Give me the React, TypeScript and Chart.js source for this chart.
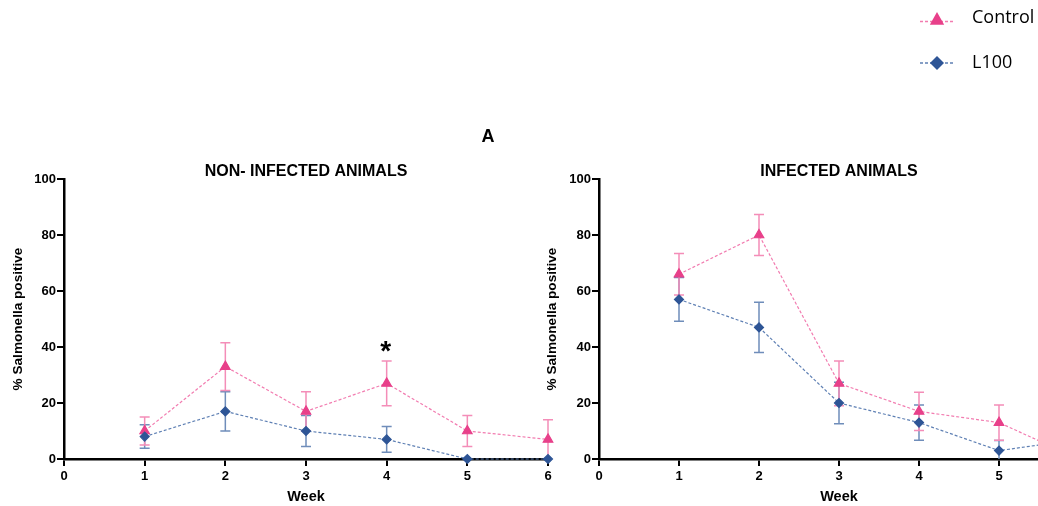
import React, { useEffect, useRef } from 'react';
import { Chart, registerables } from 'chart.js';

Chart.register(...registerables);

const FONT = '"Liberation Sans", Arial, Helvetica, sans-serif';
const LEGEND_FONT = '"Open Sans", "Liberation Sans", sans-serif';

const weeks = [1, 2, 3, 4, 5, 6];
const yTickValues = [0, 20, 40, 60, 80, 100];
const xTickValues = [0, 1, 2, 3, 4, 5, 6];

const seriesNames = ['Control', 'L100'];
const panelTitles = ['NON- INFECTED ANIMALS', 'INFECTED ANIMALS'];
const panelLabel = 'A';
const yAxisTitle = '% Salmonella positive';
const xAxisTitle = 'Week';

const nonInfControl = [10, 33, 17, 27, 10, 7];
const nonInfControlErr = [5, 8.5, 7, 8, 5.5, 7];
const nonInfL100 = [8, 17, 10, 7, 0, 0];
const nonInfL100Err = [4.2, 7, 5.5, 4.6, 0, 0];

const infControl = [66, 80, 27, 17, 13, 0];
const infControlErr = [7.4, 7.3, 8, 6.8, 6.3, 0];
const infL100 = [57, 47, 20, 13, 3, 7];
const infL100Err = [7.8, 9, 7.4, 6.3, 3.6, 0];

const significance = [{ week: 4, value: 40.5, mark: '*' }];

const CONTROL_MARK = '#E8408A';
const CONTROL_LINE = '#F27CB0';
const CONTROL_ERR = '#F48DB8';
const L100_MARK = '#2E5596';
const L100_LINE = '#5F80B4';
const L100_ERR = '#6F8DBA';

const errorBarPlugin = {
  id: 'errorBars',
  beforeDatasetsDraw(chart: any) {
    const { ctx } = chart;
    const xs = chart.scales.x;
    const ys = chart.scales.y;
    chart.data.datasets.forEach((ds: any) => {
      const errs = ds.errors;
      if (!errs) return;
      ctx.save();
      ctx.strokeStyle = ds.errColor;
      ctx.lineWidth = 1.5;
      ds.data.forEach((p: any, i: number) => {
        const e = errs[i];
        if (!e) return;
        const px = xs.getPixelForValue(p.x);
        const top = ys.getPixelForValue(p.y + e);
        const low = Math.max(0, p.y - e);
        const bot = ys.getPixelForValue(low);
        ctx.beginPath();
        ctx.moveTo(px, top);
        ctx.lineTo(px, bot);
        ctx.moveTo(px - 5, top);
        ctx.lineTo(px + 5, top);
        if (low > 0) {
          ctx.moveTo(px - 5, bot);
          ctx.lineTo(px + 5, bot);
        }
        ctx.stroke();
      });
      ctx.restore();
    });
  },
};

const decoPlugin = {
  id: 'deco',
  afterDraw(chart: any, _args: any, opts: any) {
    const { ctx, chartArea } = chart;
    const cx = (chartArea.left + chartArea.right) / 2;
    ctx.save();
    ctx.fillStyle = '#000';
    ctx.textAlign = 'center';
    ctx.textBaseline = 'middle';
    ctx.font = `bold 16px ${FONT}`;
    ctx.fillText(opts.title, cx, chartArea.top - 7);
    ctx.font = `bold 14.5px ${FONT}`;
    ctx.fillText(opts.xTitle, cx, 497);
    ctx.save();
    ctx.translate(opts.yTitleX, (chartArea.top + chartArea.bottom) / 2);
    ctx.rotate(-Math.PI / 2);
    ctx.font = `bold 13.6px ${FONT}`;
    ctx.fillText(opts.yTitle, 0, 0);
    ctx.restore();
    if (opts.extra) opts.extra(chart, ctx);
    ctx.restore();
  },
};

function makeDatasets(control: number[], controlErr: number[], l100: number[], l100Err: number[]) {
  return [
    {
      label: seriesNames[1],
      data: weeks.map((w, i) => ({ x: w, y: l100[i] })),
      errors: l100Err,
      errColor: L100_ERR,
      borderColor: L100_LINE,
      backgroundColor: L100_MARK,
      pointBackgroundColor: L100_MARK,
      pointBorderColor: L100_MARK,
      pointStyle: 'rectRot',
      pointRadius: 4.5,
      borderWidth: 1.2,
      borderDash: [3, 2],
      clip: false,
    },
    {
      label: seriesNames[0],
      data: weeks.map((w, i) => ({ x: w, y: control[i] })),
      errors: controlErr,
      errColor: CONTROL_ERR,
      borderColor: CONTROL_LINE,
      backgroundColor: CONTROL_MARK,
      pointBackgroundColor: CONTROL_MARK,
      pointBorderColor: CONTROL_MARK,
      pointStyle: 'triangle',
      pointRadius: 5.5,
      borderWidth: 1.2,
      borderDash: [3, 2],
      clip: false,
    },
  ];
}

function makeOptions(yWidth: number, padRight: number, deco: any) {
  const tickFont = { family: FONT, size: 13, weight: 'bold' as const };
  return {
    responsive: false,
    animation: false as const,
    layout: { padding: { top: 179, right: padRight, left: 0, bottom: 0 } },
    plugins: {
      legend: { display: false },
      tooltip: { enabled: false },
      deco,
    },
    scales: {
      x: {
        type: 'linear' as const,
        min: 0,
        max: 6,
        afterFit: (s: any) => { s.height = 47; },
        afterBuildTicks: (s: any) => { s.ticks = xTickValues.map((v) => ({ value: v })); },
        ticks: { font: tickFont, color: '#000', padding: 3, maxRotation: 0 },
        grid: { drawOnChartArea: false, drawTicks: true, tickLength: 7, color: '#000', lineWidth: 2 },
        border: { display: true, color: '#000', width: 2.5 },
      },
      y: {
        type: 'linear' as const,
        min: 0,
        max: 100,
        afterFit: (s: any) => { s.width = yWidth; },
        afterBuildTicks: (s: any) => { s.ticks = yTickValues.map((v) => ({ value: v })); },
        ticks: { font: tickFont, color: '#000', padding: 1 },
        grid: { drawOnChartArea: false, drawTicks: true, tickLength: 7, color: '#000', lineWidth: 2 },
        border: { display: true, color: '#000', width: 2.5 },
      },
    },
  };
}

function drawTriangle(ctx: CanvasRenderingContext2D, x: number, y: number, r: number) {
  ctx.beginPath();
  ctx.moveTo(x, y - r);
  ctx.lineTo(x + r * 0.9, y + r * 0.6);
  ctx.lineTo(x - r * 0.9, y + r * 0.6);
  ctx.closePath();
  ctx.fill();
}

function drawDiamond(ctx: CanvasRenderingContext2D, x: number, y: number, r: number) {
  ctx.beginPath();
  ctx.moveTo(x, y - r);
  ctx.lineTo(x + r, y);
  ctx.lineTo(x, y + r);
  ctx.lineTo(x - r, y);
  ctx.closePath();
  ctx.fill();
}

const LEFT_W = 570;
const RIGHT_LEFT = 530;
const RIGHT_W = 560;

export default function App() {
  const leftRef = useRef<HTMLCanvasElement>(null);
  const rightRef = useRef<HTMLCanvasElement>(null);

  useEffect(() => {
    const left = new Chart(leftRef.current as HTMLCanvasElement, {
      type: 'line',
      data: { datasets: makeDatasets(nonInfControl, nonInfControlErr, nonInfL100, nonInfL100Err) as any },
      options: makeOptions(64, LEFT_W - 548, {
        title: panelTitles[0],
        xTitle: xAxisTitle,
        yTitle: yAxisTitle,
        yTitleX: 18.5,
        extra: (chart: any, ctx: CanvasRenderingContext2D) => {
          ctx.font = `bold 18px ${FONT}`;
          ctx.textAlign = 'center';
          ctx.textBaseline = 'middle';
          ctx.fillText(panelLabel, 488, 137);
          ctx.font = `bold 28px ${FONT}`;
          ctx.textBaseline = 'alphabetic';
          significance.forEach((s) => {
            const px = chart.scales.x.getPixelForValue(s.week) - 1;
            const py = chart.scales.y.getPixelForValue(s.value) + 14.6;
            ctx.fillText(s.mark, px, py);
          });
        },
      }) as any,
      plugins: [errorBarPlugin, decoPlugin],
    });

    const right = new Chart(rightRef.current as HTMLCanvasElement, {
      type: 'line',
      data: { datasets: makeDatasets(infControl, infControlErr, infL100, infL100Err) as any },
      options: makeOptions(69, 11, {
        title: panelTitles[1],
        xTitle: xAxisTitle,
        yTitle: yAxisTitle,
        yTitleX: 22.5,
        extra: (_chart: any, ctx: CanvasRenderingContext2D) => {
          const items = [
            { name: seriesNames[0], y: 20, line: CONTROL_LINE, mark: CONTROL_MARK, shape: 'tri' },
            { name: seriesNames[1], y: 63, line: L100_LINE, mark: L100_MARK, shape: 'dia' },
          ];
          const mx = 937 - RIGHT_LEFT;
          items.forEach((it) => {
            ctx.save();
            ctx.strokeStyle = it.line;
            ctx.lineWidth = 1.3;
            ctx.setLineDash([3, 2]);
            ctx.beginPath();
            ctx.moveTo(920 - RIGHT_LEFT, it.y + (it.shape === 'tri' ? 1.5 : 0));
            ctx.lineTo(954 - RIGHT_LEFT, it.y + (it.shape === 'tri' ? 1.5 : 0));
            ctx.stroke();
            ctx.restore();
            ctx.fillStyle = it.mark;
            if (it.shape === 'tri') drawTriangle(ctx, mx, it.y, 8);
            else drawDiamond(ctx, mx, it.y, 7);
            ctx.fillStyle = '#000';
            ctx.font = `18px ${LEGEND_FONT}`;
            ctx.textAlign = 'left';
            ctx.textBaseline = 'middle';
            ctx.fillText(it.name, 972 - RIGHT_LEFT, it.y - (it.shape === 'tri' ? 2 : 0));
          });
        },
      }) as any,
      plugins: [errorBarPlugin, decoPlugin],
    });

    return () => {
      left.destroy();
      right.destroy();
    };
  }, []);

  return (
    <div
      style={{
        position: 'absolute',
        left: 0,
        top: 0,
        width: 1038,
        height: 506,
        overflow: 'hidden',
        background: '#fff',
      }}
    >
      <canvas
        ref={leftRef}
        width={LEFT_W}
        height={506}
        style={{ position: 'absolute', left: 0, top: 0, width: LEFT_W, height: 506 }}
      />
      <canvas
        ref={rightRef}
        width={RIGHT_W}
        height={506}
        style={{ position: 'absolute', left: RIGHT_LEFT, top: 0, width: RIGHT_W, height: 506 }}
      />
    </div>
  );
}
